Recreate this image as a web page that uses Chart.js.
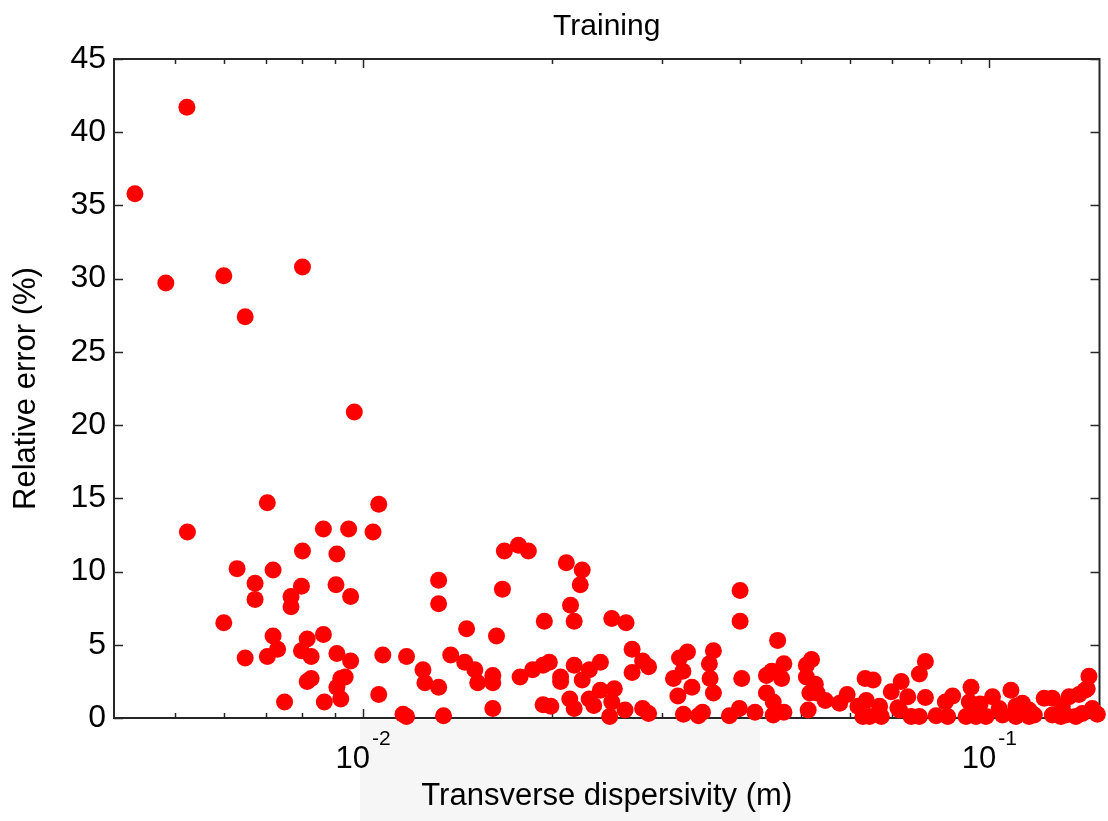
<!DOCTYPE html>
<html><head><meta charset="utf-8">
<script src="https://cdn.jsdelivr.net/npm/chart.js@4"></script>
<style>html,body{margin:0;padding:0;background:#fff}canvas{display:block}</style>
</head><body>
<canvas id="c" width="1108" height="821"></canvas>
<script>
const chartTitle = 'Training';
const xAxisLabel = 'Transverse dispersivity (m)';
const yAxisLabel = 'Relative error (%)';

const dispersivity = [
  0.00432,0.00484,0.00523,0.00524,0.00599,0.00648,0.00800,0.00968,0.00599,0.00629,
  0.00648,0.00672,0.00672,0.00703,0.00703,0.00718,0.00718,0.00730,0.00749,0.00767,
  0.00767,0.00800,0.00797,0.00797,0.00814,0.00826,0.00814,0.00826,0.00864,0.00864,
  0.00867,0.00908,0.00905,0.00908,0.00908,0.00921,0.00936,0.00921,0.00948,0.00955,
  0.00955,0.01037,0.01059,0.01059,0.01075,0.01158,0.01173,0.01173,0.01246,0.01255,
  0.0132,0.0132,0.0132,0.01344,0.0138,0.01463,0.01453,0.01508,0.01524,0.01611,
  0.01611,0.01611,0.01633,0.01669,0.01681,0.0177,0.01836,0.01781,0.01865,0.01947,
  0.01938,0.01983,0.02067,0.02067,0.01938,0.01994,0.02111,0.02238,0.02222,0.02144,
  0.02173,0.02173,0.02238,0.02298,0.02393,0.02138,0.02173,0.02296,0.02335,0.02393,
  0.02519,0.02495,0.02476,0.02495,0.0263,0.02689,0.02795,0.02857,0.02689,0.0262,
  0.02795,0.02857,0.03201,0.03296,0.03241,0.03131,0.0335,0.03182,0.03248,0.03432,
  0.03483,0.03626,0.03573,0.03582,0.03626,0.03845,0.03989,0.0400,0.0400,0.04024,
  0.04225,0.04592,0.04699,0.04407,0.04492,0.0466,0.04407,0.04518,0.04518,0.04699,
  0.05202,0.05104,0.05104,0.05275,0.0517,0.05309,0.05471,0.05138,0.05769,0.0593,
  0.0617,0.06335,0.06363,0.06284,0.06524,0.06681,0.06723,0.06974,0.07234,0.07145,
  0.07411,0.07503,0.07734,0.07907,0.07907,0.07734,0.08224,0.0851,0.08741,0.08582,
  0.09352,0.09294,0.09183,0.0967,0.09524,0.09879,0.1012,0.1083,0.1037,0.105,
  0.1103,0.1103,0.113,0.1158,0.1158,0.118,0.1224,0.1261,0.1261,0.1301,
  0.1308,0.1341,0.1375,0.1391,0.1408,0.1422,0.1443,0.1434,0.1461,0.1488,
  0.0644,0.07189,0.1325
];
const relativeError = [
  35.8,29.7,41.7,12.7,30.2,27.4,30.8,20.9,6.5,10.2,
  4.1,9.2,8.1,14.7,4.2,10.1,5.6,4.7,1.1,8.3,
  7.6,11.4,9.0,4.6,2.5,2.7,5.4,4.2,12.9,5.7,
  1.1,11.2,9.1,4.4,2.1,2.7,2.8,1.3,12.9,8.3,
  3.9,12.7,14.6,1.6,4.3,0.25,0.1,4.2,3.3,2.4,
  9.4,7.8,2.1,0.15,4.3,6.1,3.8,3.3,2.4,2.9,
  2.4,0.65,5.6,8.8,11.4,11.8,11.4,2.8,3.3,6.6,
  3.6,3.8,2.8,2.5,0.9,0.8,10.6,10.1,9.1,7.7,
  6.6,3.6,2.6,3.3,3.8,1.3,0.65,1.3,0.85,1.9,
  2.0,1.1,0.1,6.8,6.5,4.7,3.9,3.5,3.1,0.55,
  0.65,0.3,4.1,4.5,3.2,2.7,2.1,1.5,0.25,0.15,
  0.4,4.6,3.7,2.7,1.7,0.15,0.65,8.7,6.6,2.7,
  0.4,5.3,3.7,2.9,3.2,2.7,1.7,1.1,0.2,0.4,
  4.0,3.6,2.8,2.3,1.7,1.7,1.2,0.55,1.0,1.6,
  0.8,2.7,1.2,0.1,2.6,0.8,0.1,1.8,2.5,0.7,
  1.45,0.1,3.0,3.85,1.4,0.1,0.15,1.1,1.5,0.1,
  2.1,1.1,0.1,0.95,0.1,0.1,1.45,1.9,0.65,0.2,
  0.8,0.1,1.0,0.55,0.1,0.2,1.35,1.35,0.2,0.1,
  0.8,1.45,0.1,1.6,0.3,1.9,2.85,2.0,0.65,0.25,
  0.1,0.55,0.2
];

const yTickValues = [0, 5, 10, 15, 20, 25, 30, 35, 40, 45];
const xMajorTickValues = [0.01, 0.1];
const xMajorTickBase = ['10', '10'];
const xMajorTickExponents = ['-2', '-1'];
const xMinorTickValues = [0.005, 0.006, 0.007, 0.008, 0.009, 0.02, 0.03, 0.04, 0.05, 0.06, 0.07, 0.08, 0.09];

const FONT = "'Liberation Sans', Arial, Helvetica, sans-serif";
Chart.defaults.font.family = FONT;
Chart.defaults.color = '#000';

const points = dispersivity.map((x, i) => ({ x: x, y: relativeError[i] }));

const boxPlugin = {
  id: 'matlabBox',
  beforeDraw(chart) {
    const { ctx, chartArea } = chart;
    ctx.save();
    ctx.fillStyle = '#f6f6f6';
    ctx.fillRect(360, chartArea.bottom + 2, 400, chart.height - chartArea.bottom - 2);
    ctx.restore();
  },
  beforeDatasetsDraw(chart) {
    const { ctx, chartArea: { left, right, top, bottom }, scales: { x, y } } = chart;
    ctx.save();
    ctx.strokeStyle = '#262626';
    ctx.lineWidth = 1.5;
    const line = (x1, y1, x2, y2) => { ctx.beginPath(); ctx.moveTo(x1, y1); ctx.lineTo(x2, y2); ctx.stroke(); };
    yTickValues.forEach(v => {
      const py = Math.round(y.getPixelForValue(v)) + 0.5;
      line(left, py, left + 9, py);
      line(right, py, right - 9, py);
    });
    xMinorTickValues.forEach(v => {
      const px = Math.round(x.getPixelForValue(v)) + 0.5;
      line(px, bottom, px, bottom - 5);
      line(px, top, px, top + 5);
    });
    xMajorTickValues.forEach(v => {
      const px = Math.round(x.getPixelForValue(v)) + 0.5;
      line(px, bottom, px, bottom - 9);
      line(px, top, px, top + 9);
    });
    ctx.lineWidth = 2;
    ctx.strokeRect(left, top, right - left, bottom - top);

    // x tick labels with superscript exponents
    ctx.fillStyle = '#000';
    ctx.textBaseline = 'alphabetic';
    ctx.textAlign = 'left';
    xMajorTickValues.forEach((v, i) => {
      const px = x.getPixelForValue(v);
      ctx.font = '31px ' + FONT;
      const wBase = ctx.measureText(xMajorTickBase[i]).width;
      ctx.font = '21px ' + FONT;
      const wExp = ctx.measureText(xMajorTickExponents[i]).width;
      const start = px - (wBase + 2 + wExp) / 2;
      ctx.font = '31px ' + FONT;
      ctx.fillText(xMajorTickBase[i], start, bottom + 50);
      ctx.font = '21px ' + FONT;
      ctx.fillText(xMajorTickExponents[i], start + wBase + 2, bottom + 27);
    });
    ctx.restore();
  }
};

new Chart(document.getElementById('c'), {
  type: 'scatter',
  data: {
    datasets: [{
      data: points,
      pointRadius: 8.5,
      pointHoverRadius: 8.5,
      pointBackgroundColor: '#ff0000',
      pointBorderWidth: 0,
      pointBorderColor: '#ff0000',
      showLine: false,
      clip: false
    }]
  },
  options: {
    responsive: false,
    animation: false,
    devicePixelRatio: 1,
    layout: { padding: { left: 0, right: 8, top: 0, bottom: 0 } },
    plugins: {
      legend: { display: false },
      tooltip: { enabled: false },
      title: {
        display: true,
        fullSize: false,
        text: chartTitle,
        color: '#000',
        font: { size: 30, weight: 'normal', family: FONT },
        padding: { top: 9, bottom: 14 }
      }
    },
    scales: {
      x: {
        type: 'logarithmic',
        min: 0.004,
        max: 0.15,
        grid: { display: false, drawTicks: false },
        border: { display: false },
        ticks: { display: false },
        title: {
          display: true,
          text: xAxisLabel,
          color: '#000',
          font: { size: 31, family: FONT },
          padding: { top: 0, bottom: 6 }
        },
        afterFit(scale) { scale.height = 103; }
      },
      y: {
        min: 0,
        max: 45,
        afterBuildTicks(scale) { scale.ticks = yTickValues.map(v => ({ value: v })); },
        grid: { display: false, drawTicks: false },
        border: { display: false },
        ticks: { color: '#000', font: { size: 32, family: FONT }, padding: 8 },
        title: {
          display: true,
          text: yAxisLabel,
          color: '#000',
          font: { size: 31, family: FONT },
          padding: { top: 8, bottom: 0 }
        },
        afterFit(scale) { scale.width = 114; }
      }
    }
  },
  plugins: [boxPlugin]
});
</script>
</body></html>
